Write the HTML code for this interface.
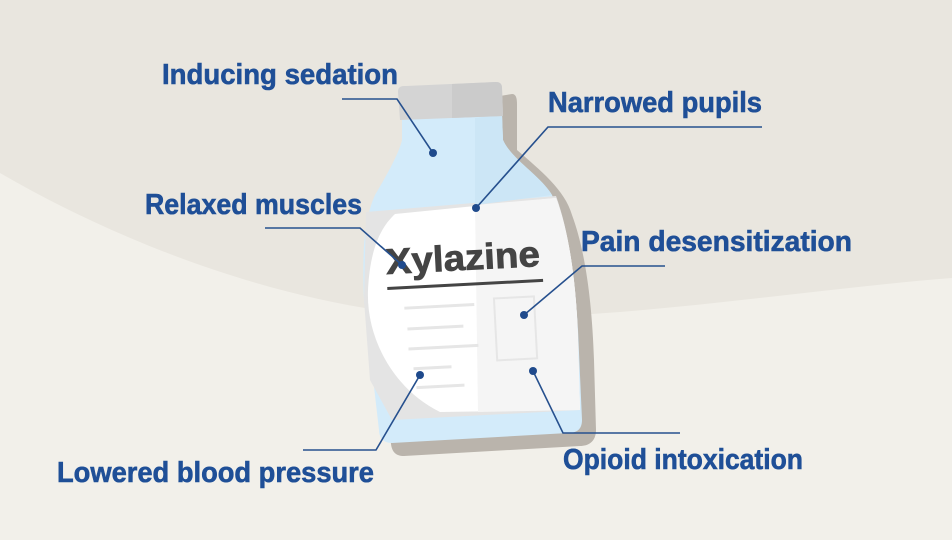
<!DOCTYPE html>
<html><head><style>
html,body{margin:0;padding:0;background:#e9e6df;}
svg{display:block}
text{font-family:"Liberation Sans",sans-serif;font-weight:bold;fill:#1f4f97;font-size:29px;stroke:#1f4f97;stroke-width:0.6}
</style></head><body>
<svg width="952" height="540" viewBox="0 0 952 540" xmlns="http://www.w3.org/2000/svg">
<rect width="952" height="540" fill="#e9e6df"/>
<path d="M0,173 C150,260 330,318 480,318 C640,318 800,290 952,278 L952,540 L0,540 Z" fill="#f2f0ea"/>
<!-- shadow -->
<path d="M500,96 L512,94 C516,94 517,98 517,104 L517,150 C540,170 565,190 572,215 C585,250 592,300 594,360 L596,430 C596,442 588,446 580,446 L404,456 C396,456 392,452 391,444 L378,300 Z" fill="#bab4ac"/>
<!-- bottle body blue -->
<path d="M402,118 L502,114 L503,140 C512,160 540,175 552,195 C568,230 576,290 578,330 L582,420 C582,430 576,433 568,433 L392,443 C384,443 379,438 379,430 L364,300 C362,250 364,220 375,195 C390,170 400,150 402,140 Z" fill="#d3ebfa"/>
<!-- gray left strip / white label area -->
<path d="M366,212 L556,196 C572,240 577,300 578,340 L580,410 L392,420 L370,380 L364,300 Z" fill="#e4e4e4"/>
<path d="M395,214 L556,198 C572,240 577,300 578,340 L580,410 L440,412 C395,390 366,340 368,290 C370,250 380,228 395,214 Z" fill="#ffffff"/>
<path d="M475,205 L556,198 C572,240 577,300 578,340 L580,410 L478,412 Z" fill="#f5f5f5"/>
<path d="M475,118 L502,114 L503,140 C512,160 540,175 552,195 L475,205 Z" fill="#cce6f6"/>
<!-- cap -->
<path d="M398,92 C398,86 402,86 406,86 L496,82 C500,82 502,84 502,88 L503,116 L400,120 Z" fill="#d4d4d4"/>
<path d="M452,84 L496,82 C500,82 502,84 502,88 L503,116 L452,118 Z" fill="#cbcbcb"/>
<!-- label details -->
<g transform="rotate(-3 465 300)">
<text x="388" y="270" style="fill:#444;stroke:#444;stroke-width:0.8;font-size:36px" textLength="154" lengthAdjust="spacingAndGlyphs">Xylazine</text>
<rect x="388" y="283" width="156" height="3" fill="#444"/>
<g stroke="#e6e6e6" stroke-width="3">
<line x1="404" y1="305" x2="474" y2="305"/><line x1="406" y1="326" x2="462" y2="326"/>
<line x1="406" y1="346" x2="476" y2="346"/><line x1="410" y1="366" x2="448" y2="366"/>
<line x1="412" y1="385" x2="460" y2="385"/>
</g>
<rect x="494" y="300" width="40" height="62" fill="none" stroke="#e6e6e6" stroke-width="2"/>
</g>
<!-- connectors -->
<g stroke="#26508e" stroke-width="1.6" fill="none">
<polyline points="342,99 397,99 433,153"/>
<polyline points="476,208 548,127 762,127"/>
<polyline points="265,228 360,228 402,265"/>
<polyline points="524,315 582,266 665,266"/>
<polyline points="420,375 376,450 303,450"/>
<polyline points="533,371 563,433 680,433"/>
</g>
<g fill="#1f4a8c">
<circle cx="433" cy="153" r="4"/><circle cx="476" cy="208" r="4"/><circle cx="402" cy="265" r="4"/>
<circle cx="524" cy="315" r="4"/><circle cx="420" cy="375" r="4"/><circle cx="533" cy="371" r="4"/>
</g>
<text x="162" y="84" textLength="236" lengthAdjust="spacingAndGlyphs">Inducing sedation</text>
<text x="548" y="112" textLength="214" lengthAdjust="spacingAndGlyphs">Narrowed pupils</text>
<text x="145" y="214" textLength="217" lengthAdjust="spacingAndGlyphs">Relaxed muscles</text>
<text x="581" y="251" textLength="271" lengthAdjust="spacingAndGlyphs">Pain desensitization</text>
<text x="57" y="482" textLength="317" lengthAdjust="spacingAndGlyphs">Lowered blood pressure</text>
<text x="563" y="469" textLength="240" lengthAdjust="spacingAndGlyphs">Opioid intoxication</text>
</svg>
</body></html>
